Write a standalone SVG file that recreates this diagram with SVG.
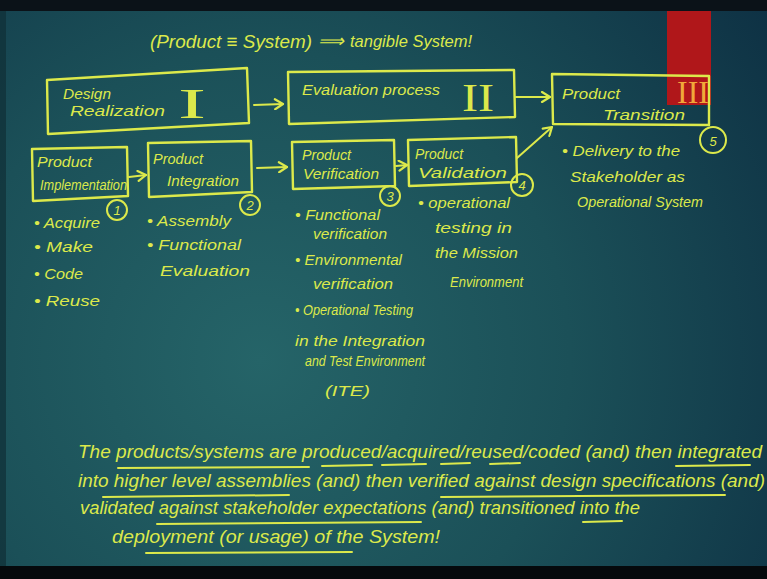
<svg xmlns="http://www.w3.org/2000/svg" width="767" height="579" viewBox="0 0 767 579">
<defs>
<radialGradient id="bg" cx="260" cy="360" r="620" gradientUnits="userSpaceOnUse">
<stop offset="0" stop-color="#256468"/>
<stop offset="0.5" stop-color="#1b5058"/>
<stop offset="1" stop-color="#0e3144"/>
</radialGradient>
<marker id="ah" markerWidth="12" markerHeight="12" refX="10" refY="6" orient="auto" markerUnits="userSpaceOnUse">
<path d="M2,1 L10,6 L2,11" fill="none" stroke="#dce94b" stroke-width="2.2" stroke-linecap="round" stroke-linejoin="round"/>
</marker>
<style>
.t{font-family:"Liberation Sans","Noto Sans",sans-serif;fill:#dce94b;font-style:italic}
.r{font-family:"Liberation Serif","DejaVu Serif",serif;fill:#dce94b;font-style:normal}
.b{fill:none;stroke:#dce94b;stroke-width:2.4;stroke-linejoin:round}
.c{fill:none;stroke:#dce94b;stroke-width:2}
.u{fill:none;stroke:#dce94b;stroke-width:2;stroke-linecap:round}
.lbl{font-size:14px}
.li{font-size:14px}
.p{font-size:18px}
.num{font-size:13px;text-anchor:middle}
</style>
</defs>
<rect width="767" height="579" fill="url(#bg)"/>
<rect x="0" y="0" width="767" height="11" fill="#0b1218"/>
<rect x="0" y="566" width="767" height="13" fill="#05090c"/>
<rect x="0" y="11" width="6" height="555" fill="#0f2f36" opacity="0.7"/>
<rect x="667" y="11" width="44" height="94" fill="#b0171a"/>

<g id="title">
<text class="t" x="150" y="48" font-size="19" textLength="162" lengthAdjust="spacingAndGlyphs">(Product ≡ System)</text>
<text class="t" x="318" y="47" font-size="18">⟹</text>
<text class="t" x="350" y="47" font-size="17" textLength="122" lengthAdjust="spacingAndGlyphs">tangible System!</text>
</g>

<g id="design-realization">
<polygon class="b" points="47,80 247,68 249,123 48,134"/>
<text class="t lbl" x="63" y="99" textLength="48" lengthAdjust="spacingAndGlyphs">Design</text>
<text class="t lbl" x="70" y="116" textLength="95" lengthAdjust="spacingAndGlyphs">Realization</text>
<text class="r" x="178" y="118" font-size="42" textLength="28" lengthAdjust="spacingAndGlyphs">I</text>
</g>

<g id="evaluation-process">
<polygon class="b" points="288,72 514,70 515,117 289,124"/>
<text class="t lbl" x="302" y="95" textLength="138" lengthAdjust="spacingAndGlyphs">Evaluation process</text>
<text class="r" x="462" y="111" font-size="40" textLength="32" lengthAdjust="spacingAndGlyphs">II</text>
</g>

<g id="product-transition">
<polygon class="b" points="552,74 709,76 709,125 553,124"/>
<text class="t lbl" x="562" y="99" textLength="58" lengthAdjust="spacingAndGlyphs">Product</text>
<text class="t lbl" x="603" y="120" textLength="82" lengthAdjust="spacingAndGlyphs">Transition</text>
<text class="r" x="677" y="103" font-size="32" textLength="32" lengthAdjust="spacingAndGlyphs" style="fill:#f1a83a">III</text>
<circle class="c" cx="713" cy="140" r="13"/>
<text class="t num" x="713" y="146" font-size="16">5</text>
<text class="t li" x="562" y="156" textLength="118" lengthAdjust="spacingAndGlyphs">• Delivery to the</text>
<text class="t li" x="570" y="182" textLength="115" lengthAdjust="spacingAndGlyphs">Stakeholder as</text>
<text class="t li" x="577" y="207" font-size="15" textLength="126" lengthAdjust="spacingAndGlyphs">Operational System</text>
</g>

<g id="product-implementation">
<polygon class="b" points="32,149 127,147 128,196 33,201"/>
<text class="t lbl" x="37" y="167" textLength="55" lengthAdjust="spacingAndGlyphs">Product</text>
<text class="t lbl" x="40" y="190" textLength="87" lengthAdjust="spacingAndGlyphs">Implementation</text>
<circle class="c" cx="117" cy="210" r="10"/>
<text class="t num" x="117" y="215">1</text>
<text class="t li" x="34" y="228" textLength="66" lengthAdjust="spacingAndGlyphs">• Acquire</text>
<text class="t li" x="34" y="252" textLength="59" lengthAdjust="spacingAndGlyphs">• Make</text>
<text class="t li" x="34" y="279" textLength="49" lengthAdjust="spacingAndGlyphs">• Code</text>
<text class="t li" x="34" y="306" textLength="66" lengthAdjust="spacingAndGlyphs">• Reuse</text>
</g>

<g id="product-integration">
<polygon class="b" points="148,143 251,141 252,192 149,197"/>
<text class="t lbl" x="153" y="164" textLength="50" lengthAdjust="spacingAndGlyphs">Product</text>
<text class="t lbl" x="167" y="186" textLength="72" lengthAdjust="spacingAndGlyphs">Integration</text>
<circle class="c" cx="250" cy="205" r="10"/>
<text class="t num" x="250" y="210">2</text>
<text class="t li" x="147" y="226" textLength="84" lengthAdjust="spacingAndGlyphs">• Assembly</text>
<text class="t li" x="147" y="250" textLength="94" lengthAdjust="spacingAndGlyphs">• Functional</text>
<text class="t li" x="160" y="276" textLength="90" lengthAdjust="spacingAndGlyphs">Evaluation</text>
</g>

<g id="product-verification">
<polygon class="b" points="292,142 394,140 395,186 293,189"/>
<text class="t lbl" x="302" y="160" textLength="49" lengthAdjust="spacingAndGlyphs">Product</text>
<text class="t lbl" x="303" y="179" textLength="76" lengthAdjust="spacingAndGlyphs">Verification</text>
<circle class="c" cx="390" cy="196" r="10"/>
<text class="t num" x="390" y="201">3</text>
<text class="t li" x="295" y="220" textLength="85" lengthAdjust="spacingAndGlyphs">• Functional</text>
<text class="t li" x="313" y="239" textLength="74" lengthAdjust="spacingAndGlyphs">verification</text>
<text class="t li" x="295" y="265" textLength="107" lengthAdjust="spacingAndGlyphs">• Environmental</text>
<text class="t li" x="313" y="289" textLength="80" lengthAdjust="spacingAndGlyphs">verification</text>
<text class="t li" x="295" y="315" textLength="118" lengthAdjust="spacingAndGlyphs">• Operational Testing</text>
<text class="t li" x="295" y="346" textLength="130" lengthAdjust="spacingAndGlyphs">in the Integration</text>
<text class="t li" x="305" y="366" font-size="15" textLength="120" lengthAdjust="spacingAndGlyphs">and Test Environment</text>
<text class="t li" x="325" y="396" font-size="16" textLength="45" lengthAdjust="spacingAndGlyphs">(ITE)</text>
</g>

<g id="product-validation">
<polygon class="b" points="408,140 516,137 517,182 409,186"/>
<text class="t lbl" x="415" y="159" textLength="48" lengthAdjust="spacingAndGlyphs">Product</text>
<text class="t lbl" x="418" y="178" textLength="89" lengthAdjust="spacingAndGlyphs">Validation</text>
<circle class="c" cx="522" cy="185" r="11"/>
<text class="t num" x="522" y="190">4</text>
<text class="t li" x="418" y="208" textLength="92" lengthAdjust="spacingAndGlyphs">• operational</text>
<text class="t li" x="435" y="233" textLength="77" lengthAdjust="spacingAndGlyphs">testing in</text>
<text class="t li" x="435" y="258" textLength="83" lengthAdjust="spacingAndGlyphs">the Mission</text>
<text class="t li" x="450" y="287" font-size="15" textLength="73" lengthAdjust="spacingAndGlyphs">Environment</text>
</g>

<g id="connectors">
<line class="u" x1="254" y1="105" x2="283" y2="104" marker-end="url(#ah)"/>
<line class="u" x1="516" y1="97" x2="550" y2="97" marker-end="url(#ah)"/>
<line class="u" x1="129" y1="177" x2="146" y2="175" marker-end="url(#ah)"/>
<line class="u" x1="257" y1="168" x2="287" y2="167" marker-end="url(#ah)"/>
<line class="u" x1="396" y1="166" x2="407" y2="165" marker-end="url(#ah)"/>
<line class="u" x1="517" y1="158" x2="552" y2="127" marker-end="url(#ah)"/>
</g>

<g id="summary">
<text class="t p" x="78" y="458" textLength="684" lengthAdjust="spacingAndGlyphs">The products/systems are produced/acquired/reused/coded (and) then integrated</text>
<text class="t p" x="78" y="487" textLength="687" lengthAdjust="spacingAndGlyphs">into higher level assemblies (and) then verified against design specifications (and)</text>
<text class="t p" x="80" y="514" textLength="560" lengthAdjust="spacingAndGlyphs">validated against stakeholder expectations (and) transitioned into the</text>
<text class="t p" x="112" y="543" textLength="328" lengthAdjust="spacingAndGlyphs">deployment (or usage) of the System!</text>
<path class="u" d="M118,468 L309,467 M322,466 L372,465 M382,465 L426,464 M441,464 L470,463 M490,464 L520,463 M676,466 L750,465"/>
<path class="u" d="M103,497 L289,495 M441,497 L725,495"/>
<path class="u" d="M157,524 L421,522 M583,522 L622,521"/>
<path class="u" d="M146,553 L352,552"/>
</g>
</svg>
